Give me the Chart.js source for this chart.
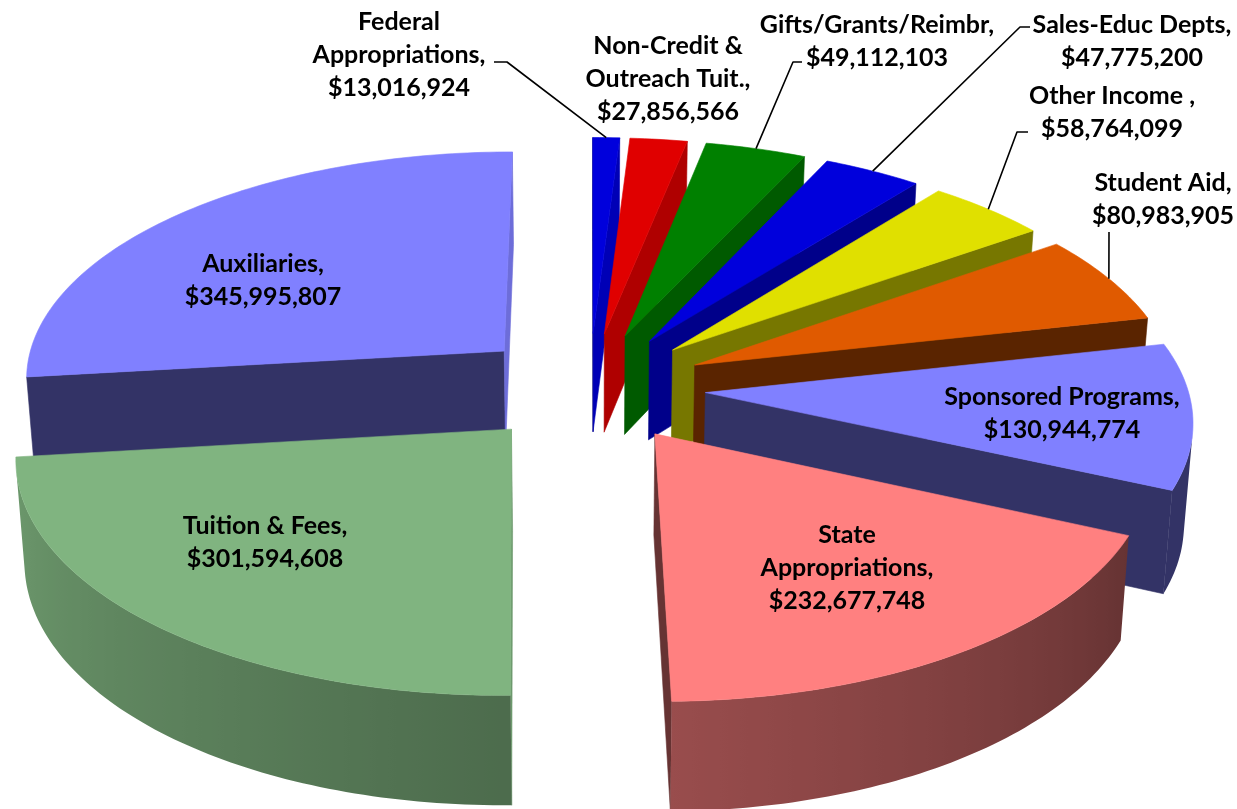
<!DOCTYPE html>
<html><head><meta charset="utf-8">
<script src="https://cdn.jsdelivr.net/npm/chart.js@4/dist/chart.umd.min.js"></script>
<style>html,body{margin:0;padding:0;background:#fff}canvas{display:block}</style>
</head><body>
<canvas id="c" width="1237" height="809"></canvas>
<script>
const categories = ['Federal\nAppropriations,','Non-Credit &\nOutreach Tuit.,','Gifts/Grants/Reimbr,','Sales-Educ Depts,','Other Income ,','Student Aid,','Sponsored Programs,','State\nAppropriations,','Tuition & Fees,','Auxiliaries,'];
const revenue = [13016924,27856566,49112103,47775200,58764099,80983905,130944774,232677748,301594608,345995807];
const sliceColors = [[0,0,220],[224,0,0],[0,128,0],[0,0,220],[224,224,0],[224,90,0],[128,128,255],[255,128,128],[128,180,128],[128,128,255]];
const labelCenters = [[399,22],[668,46],[877,25],[1132,25],[1112,96],[1163,183],[1062,397],[847,535],[265,526],[263,264]];
const leaderKnots = [[[494,62],[507,62]],null,[[802,62],[793,62]],[[1030,27],[1020,27]],[[1028,132],[1017,132]],[[1109,232],[1109,233]],null,null,null,null];

const cam = {cx:589.5, cy:387, p:0.000223, k:0.4728, h:100, shrink:0.015, radius:482};
const project = (u,v,z) => {
  const w = 1 - cam.p*v, f = 1 - cam.shrink*z;
  return [cam.cx + u*f/w, cam.cy + (cam.k*v*f + cam.h*z)/w];
};
const area = pts => pts.reduce((s,p,i)=>{const q=pts[(i+1)%pts.length];return s+p[0]*q[1]-q[0]*p[1];},0);
const rgb = (col,f) => `rgb(${col.map(x=>Math.round(x*f)).join(',')})`;
function trace(ctx,pts){ pts.forEach((p,i)=>i?ctx.lineTo(p[0],p[1]):ctx.moveTo(p[0],p[1])); ctx.closePath(); }
function poly(ctx,pts,col,f){
  const c = rgb(col,f);
  ctx.beginPath(); trace(ctx,pts);
  ctx.fillStyle=c; ctx.strokeStyle=c; ctx.lineWidth=0.6; ctx.fill(); ctx.stroke();
}
function sliceGeom(el){
  const {startAngle:s,endAngle:e,outerRadius:R} = el;
  const q = cam.radius/R, off = el.options.offset*q, m=(s+e)/2;
  const ax = Math.cos(m)*off, ay = Math.sin(m)*off;
  const at = t => [ax+Math.cos(t)*cam.radius, ay+Math.sin(t)*cam.radius];
  return {s,e,m,ax,ay,at};
}
// shade of a flat cut face from the compass direction of its outward normal
function wallShade(normalDeg){
  const nd=((normalDeg%360)+360)%360;
  return Math.min(0.85,Math.max(0.4,0.4+0.45*(167-nd)/77));
}
function sideShade(deg){ return deg<115 ? 0.4 : 0.4+(deg-115)/155*0.48; }
function drawSlice(ctx,g,col){
  const n = Math.max(4,Math.ceil((g.e-g.s)/(Math.PI/180)));
  const ts = Array.from({length:n+1},(_,i)=>g.s+(g.e-g.s)*i/n);
  const T = t=>{const a=g.at(t);return project(a[0],a[1],0);};
  const B = t=>{const a=g.at(t);return project(a[0],a[1],1);};
  const a0 = project(g.ax,g.ay,0), a1 = project(g.ax,g.ay,1);
  const deg = t => (t+Math.PI/2)*180/Math.PI;
  const sw=[a0,T(g.s),B(g.s),a1]; if(area(sw)<0) poly(ctx,sw,col,wallShade(deg(g.s)-90));
  const ew=[a0,T(g.e),B(g.e),a1]; if(area(ew)>0) poly(ctx,ew,col,wallShade(deg(g.e)+90));
  // visible run of the outer rim, painted as one shape with a horizontal gradient
  const vis=[];
  for(let i=0;i<n;i++){
    if(area([T(ts[i]),T(ts[i+1]),B(ts[i+1]),B(ts[i])])<0) vis.push(i);
  }
  if(vis.length){
    const run=[...vis.map(i=>ts[i]),ts[vis[vis.length-1]+1]];
    const outline=[...run.map(T),...run.slice().reverse().map(B)];
    const xs=outline.map(p=>p[0]), x0=Math.min(...xs), x1=Math.max(...xs);
    const grad=ctx.createLinearGradient(x0,0,x1,0);
    run.forEach(t=>{
      const stop=Math.min(1,Math.max(0,(T(t)[0]-x0)/Math.max(1,x1-x0)));
      grad.addColorStop(stop,rgb(col,sideShade(deg(t))));
    });
    ctx.beginPath(); trace(ctx,outline);
    ctx.fillStyle=grad; ctx.fill();
  }
  poly(ctx,[a0,...ts.map(T)],col,1);
}
const perspectivePie = {
  id:'perspectivePie',
  beforeDatasetsDraw(chart){
    const ctx=chart.ctx, els=chart.getDatasetMeta(0).data;
    const order=els.map((el,i)=>({i,g:sliceGeom(el)})).sort((a,b)=>Math.sin(a.g.m)-Math.sin(b.g.m));
    ctx.save();
    order.forEach(o=>drawSlice(ctx,o.g,sliceColors[o.i]));
    ctx.strokeStyle='#000'; ctx.lineWidth=1.6; ctx.lineJoin='round';
    els.forEach((el,i)=>{
      if(!leaderKnots[i]) return;
      const g=sliceGeom(el), a=g.at(g.m), end=project(a[0],a[1],0);
      ctx.beginPath(); leaderKnots[i].forEach((p,j)=>j?ctx.lineTo(p[0],p[1]):ctx.moveTo(p[0],p[1])); ctx.lineTo(end[0],end[1]); ctx.stroke();
    });
    ctx.fillStyle='#000'; ctx.textAlign='center'; ctx.textBaseline='middle';
    ctx.font='bold 25px Lato';
    els.forEach((el,i)=>{
      const lines=[...categories[i].split('\n'),'$'+revenue[i].toLocaleString('en-US')];
      lines.forEach((t,j)=>ctx.fillText(t,labelCenters[i][0],labelCenters[i][1]+j*33.2));
    });
    ctx.restore();
    return false;
  }
};
new Chart(document.getElementById('c'),{
  type:'pie',
  data:{labels:categories,datasets:[{data:revenue,backgroundColor:sliceColors.map(c=>`rgb(${c})`),offset:87,borderWidth:0}]},
  options:{responsive:false,animation:false,events:[],rotation:0,plugins:{legend:{display:false},tooltip:{enabled:false}},layout:{padding:0}},
  plugins:[perspectivePie]
});
</script>
</body></html>
